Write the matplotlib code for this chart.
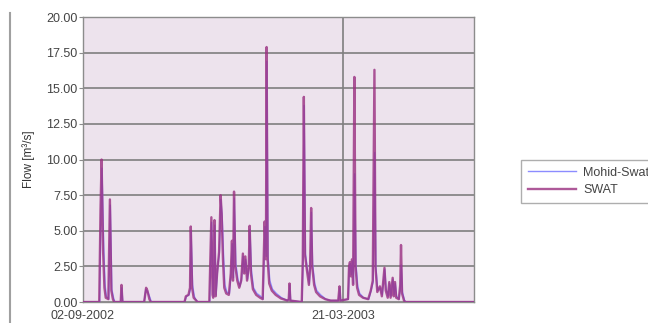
import numpy as np
import pandas as pd
import matplotlib
matplotlib.use("Agg")
import matplotlib.pyplot as plt
import matplotlib.dates as mdates

plt.rcParams["font.family"] = ["Liberation Sans", "DejaVu Sans"]

start = pd.Timestamp("2002-09-02")
end_day = 300

# SWAT hydrograph vertices: day offset from start, flow in m3/s
swat_days = [0, 12.5, 13.5, 14.3, 15.5, 16.5, 17.5, 19.5, 20.7, 21.8, 23, 24,
             29, 29.6, 30.3, 47, 48.5, 49.5, 51, 52, 78, 79, 81, 82.2, 82.8,
             83.8, 85, 86, 88, 97, 98.6, 99.5, 100, 101, 101.8, 103, 104.5,
             105.7, 106.5, 107.5, 108.5, 110, 112, 113.5, 114.4, 115.2, 116,
             117, 118.5, 120, 121.5, 122.8, 123.8, 124.7, 126, 127.3, 128,
             129, 130.5, 133, 136, 138, 139.5, 140.5, 141, 141.8, 143, 145,
             148, 152, 157, 158, 158.6, 159.2, 168, 168.8, 169.6, 170.5, 172,
             173.5, 174.4, 175.2, 176, 177.5, 179, 182, 186, 190, 196, 197,
             197.6, 203.5, 204.3, 205, 205.8, 206.6, 207.4, 208.4, 209.3,
             210.5, 212, 215, 219, 221, 222.5, 223.8, 224.6, 226, 228, 229.5,
             231.5, 232.5, 234, 235.2, 236.2, 237.8, 238.6, 239.6, 240.5,
             242.5, 243.6, 244.2, 245, 246.5, 247.5, 300]
swat_flow = [0, 0, 6.5, 10.0, 3.5, 1.0, 0.3, 0.2, 7.2, 0.8, 0.2, 0,
             0, 1.2, 0, 0, 1.0, 0.8, 0.2, 0, 0, 0.4, 0.5, 1.0, 5.3,
             1.0, 0.3, 0.2, 0, 0, 5.95, 0.5, 0.3, 5.75, 0.4, 2.0, 3.5,
             7.5, 6.2, 3.0, 1.0, 0.6, 0.5, 2.0, 4.3, 1.5, 7.75,
             2.5, 1.5, 1.0, 1.5, 3.4, 2.0, 3.2, 1.5, 2.5, 5.35,
             2.0, 0.9, 0.5, 0.3, 0.2, 5.65, 3.0, 17.9, 3.0, 1.3, 0.8,
             0.5, 0.25, 0.1, 0.2, 1.3, 0.1, 0, 3.0, 14.4, 3.3, 2.2,
             1.2, 2.5, 6.6, 2.5, 1.2, 0.7, 0.4, 0.2, 0.1, 0.1, 1.1,
             0.1, 0.2, 2.5, 2.8, 1.8, 3.0, 1.2, 15.8, 2.5,
             1.0, 0.5, 0.3, 0.2, 0.8, 1.5, 16.3, 2.4, 0.7, 1.1, 0.4,
             2.4, 0.8, 0.3, 1.4, 0.3, 1.7, 0.4, 1.4, 0.3,
             0.2, 1.2, 4.0, 0.6, 0.1, 0, 0]

# Mohid-Swat follows the same events with small differences
mohid_days = [0, 12.8, 13.8, 14.6, 16.0, 17.0, 18.0, 19.8, 21.0, 22.2, 23.5, 24.5,
              29, 29.8, 30.6, 47, 48.3, 49.8, 51.5, 52.5, 78, 79.5, 81.5, 82.5, 83.0,
              84.2, 85.5, 86.5, 88, 97.3, 98.8, 99.8, 100.3, 101.2, 102.2, 103.3, 104.8,
              105.9, 106.9, 108.0, 109.0, 110.5, 112.5, 113.8, 114.6, 115.6, 116.2,
              117.4, 119.0, 120.5, 121.8, 123.0, 124.1, 124.9, 126.4, 127.6, 128.2,
              129.4, 131.0, 133.5, 136.5, 138.3, 139.7, 140.7, 141.2, 142.1, 143.5, 145.5,
              148.5, 152.5, 157, 158.2, 158.8, 159.5, 168.2, 169.0, 169.8, 170.8, 172.3,
              173.8, 174.6, 175.4, 176.3, 178.0, 179.5, 182.5, 186.5, 190.5, 196.2, 197.2,
              197.9, 203.7, 204.5, 205.2, 206.0, 206.8, 207.7, 208.6, 209.6,
              211.0, 212.5, 215.5, 219.5, 221.2, 222.8, 224.0, 224.9, 226.3, 228.2, 229.8,
              231.7, 232.8, 234.3, 235.4, 236.5, 238.0, 238.9, 239.8, 240.8,
              242.7, 243.8, 244.4, 245.3, 247.0, 248.0, 300]
mohid_flow = [0, 0, 6.0, 9.4, 3.8, 1.2, 0.4, 0.2, 6.8, 0.9, 0.3, 0,
              0, 1.0, 0, 0, 0.9, 0.7, 0.3, 0, 0, 0.4, 0.5, 0.9, 5.0,
              1.2, 0.4, 0.2, 0, 0, 5.6, 0.6, 0.4, 5.4, 0.5, 2.2, 3.6,
              7.2, 6.0, 3.2, 1.2, 0.7, 0.6, 2.1, 4.1, 1.7, 7.3,
              2.7, 1.6, 1.1, 1.6, 3.2, 2.1, 3.0, 1.6, 2.6, 5.1,
              2.2, 1.0, 0.6, 0.4, 0.2, 5.3, 3.2, 16.9, 3.2, 1.5, 0.9,
              0.6, 0.3, 0.1, 0.2, 1.2, 0.1, 0, 2.8, 13.8, 3.4, 2.3,
              1.3, 2.4, 6.3, 2.7, 1.3, 0.8, 0.5, 0.2, 0.1, 0.1, 1.0,
              0.1, 0.2, 2.4, 2.7, 1.9, 2.9, 1.3, 9.0, 2.7,
              1.1, 0.6, 0.3, 0.2, 0.8, 1.4, 10.5, 2.5, 0.8, 1.0, 0.5,
              2.3, 0.9, 0.4, 1.3, 0.4, 1.6, 0.5, 1.3, 0.4,
              0.2, 1.1, 2.6, 0.7, 0.1, 0, 0]

yticks = [0, 2.5, 5, 7.5, 10, 12.5, 15, 17.5, 20]
xtick_dates = ["2002-09-02", "2003-03-21"]

swat_x = [start + pd.Timedelta(days=d) for d in swat_days]
mohid_x = [start + pd.Timedelta(days=d) for d in mohid_days]

fig = plt.figure(figsize=(6.48, 3.23), dpi=100)
ax = fig.add_axes([0.128, 0.065, 0.603, 0.882])
ax.set_facecolor("#EDE3ED")

l1, = ax.plot(mohid_x, mohid_flow, color="#8C8CFF", lw=1.0, zorder=3)
l2, = ax.plot(swat_x, swat_flow, color="#9A2F80", lw=1.7, alpha=0.8, zorder=4)

ax.set_xlim(start, start + pd.Timedelta(days=end_day))
ax.set_ylim(0, 20)
ax.set_yticks(yticks)
ax.set_yticklabels([f"{v:.2f}" for v in yticks])
ax.set_xticks([pd.Timestamp(d) for d in xtick_dates])
ax.xaxis.set_major_formatter(mdates.DateFormatter("%d-%m-%Y"))

ax.grid(True, color="#7F7F7F", lw=1.2, zorder=1)
ax.set_axisbelow(True)
for s in ax.spines.values():
    s.set_color("#8C8C8C")
    s.set_linewidth(1.0)

ax.tick_params(length=3, color="#8C8C8C", labelcolor="#444444", labelsize=9, pad=1)
ax.tick_params(axis="x", length=0, pad=6)
ax.set_ylabel("Flow [m³/s]", fontsize=8.5, color="#333333", labelpad=8)

# left frame line of the page
fig.add_artist(plt.Line2D([0.016, 0.016], [0.0, 0.96], color="#A0A0A0", lw=1.5))

leg = fig.legend([l1, l2], ["Mohid-Swat", "SWAT"], loc="upper left",
                 bbox_to_anchor=(0.795, 0.525), frameon=True, fancybox=False,
                 fontsize=9, handlelength=3.8, borderpad=0.55, labelspacing=0.45,
                 handletextpad=0.6)
leg.get_frame().set_edgecolor("#9A9A9A")
leg.get_frame().set_linewidth(1.0)
for t in leg.get_texts():
    t.set_color("#444444")

fig.savefig("out.png", dpi=100)
